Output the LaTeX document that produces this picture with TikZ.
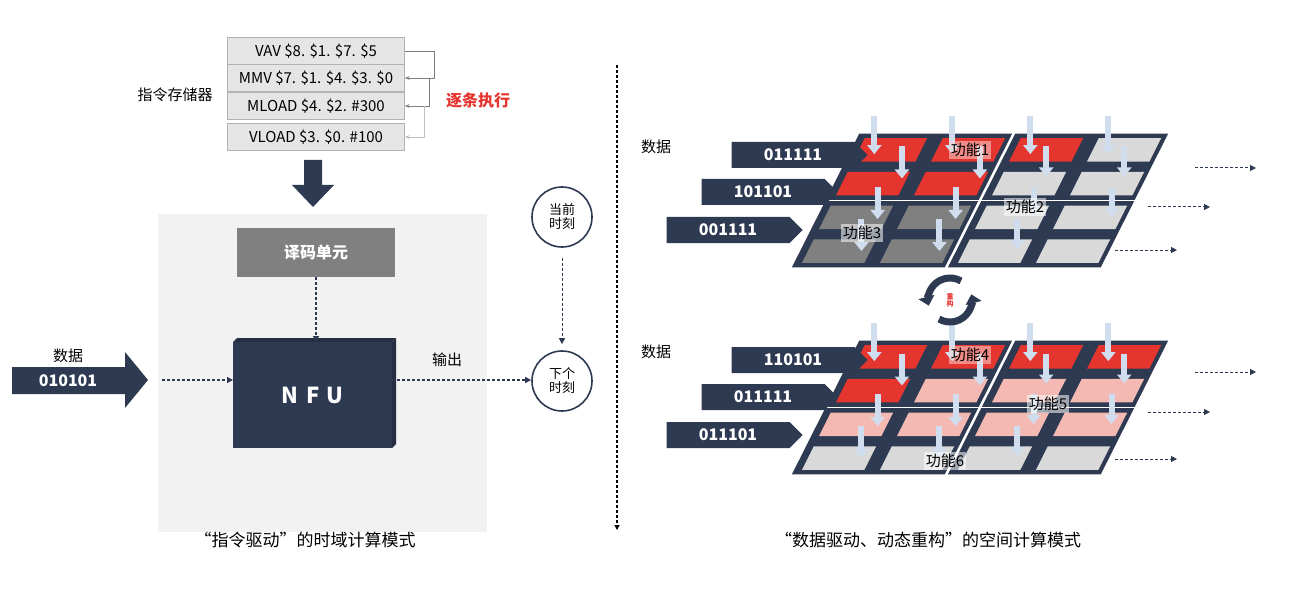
\documentclass[tikz,border=0pt]{standalone}
\usepackage{fontspec}
\setmainfont{Noto Sans CJK SC}
\usetikzlibrary{arrows.meta,shapes.symbols,calc}
\definecolor{navy}{HTML}{2E3A52}
\definecolor{redc}{HTML}{E5352F}
\definecolor{pinkc}{HTML}{F3B9B2}
\definecolor{lgray}{HTML}{D9D9D9}
\definecolor{dgray}{HTML}{808080}
\definecolor{pblue}{HTML}{D0DDEE}
\begin{document}
\begin{tikzpicture}[x=1pt,y=-1pt,
  instr/.style={draw=gray!60,fill=gray!20,minimum width=177pt,minimum height=27pt,font=\fontsize{15}{15}\selectfont,inner sep=0pt},
  lbl/.style={font=\fontsize{15}{15}\selectfont},
  dotarr/.style={navy,densely dashed,line width=1.3pt,-{Triangle[width=6pt,length=6pt]}},
  fb/.style={gray,line width=0.8pt,-{Stealth[length=5pt]}},
  sig/.style={signal,signal to=east,signal pointer angle=90,fill=navy,text=white,font=\bfseries\fontsize{16}{16}\selectfont,minimum height=26pt,minimum width=136pt,inner sep=0pt},
  tcirc/.style={circle,draw=navy,line width=1.6pt,minimum size=60pt,font=\fontsize{13}{14}\selectfont,align=center},
  func/.style={fill=white,fill opacity=0.55,text opacity=1,font=\fontsize{15}{15}\selectfont,inner sep=2pt},
  pa/.style={pblue,line width=6pt,-{Triangle[width=14pt,length=9pt]}}]
\useasboundingbox (0,0) rectangle (1290,596);
% ---------- left ----------
\node[instr] (i1) at (316,51) {VAV \$8. \$1. \$7. \$5};
\node[instr] (i2) at (316,78) {MMV \$7. \$1. \$4. \$3. \$0};
\node[instr] (i3) at (316,106) {MLOAD \$4. \$2. \#300};
\node[instr] (i4) at (316,137) {VLOAD \$3. \$0. \#100};
\draw[fb] (i1.east) -- ++(30,0) |- (i2.east);
\draw[fb] ($(i2.east)+(25,0)$) |- (i3.east);
\draw[fb,gray!50] ($(i3.east)+(20,0)$) |- (i4.east);
\node[lbl] (mem) at (175,95) {指令存储器};
\node[lbl,text=redc,font=\bfseries\fontsize{16}{16}\selectfont] (exec) at (478,100) {逐条执行};
\fill[navy] (304,160) rectangle (322,185) (292,185) -- (334,185) -- (313,207) -- cycle;
\node[fill=gray!10,minimum width=329pt,minimum height=317pt] (bg) at (322,373) {};
\node[fill=dgray,text=white,font=\bfseries\fontsize{16}{16}\selectfont,minimum width=158pt,minimum height=49pt] (dec) at (316,252) {译码单元};
\fill[navy!80!black] (233,342) -- (237,338) -- (396,338) -- (392,342) -- cycle;
\fill[navy!80!black] (392,342) -- (396,338) -- (396,444) -- (392,448) -- cycle;
\node[fill=navy,text=white,font=\bfseries\fontsize{22}{22}\selectfont,minimum width=159pt,minimum height=106pt,anchor=north west] (nfu) at (233,342) {N\,\,F\,\,U};
\draw[dotarr] (dec.south) -- (nfu.north -| dec.south);
\fill[navy] (12,367) rectangle (125,394) (125,352) -- (148,380) -- (125,408) -- cycle;
\node[text=white,font=\bfseries\fontsize{16}{16}\selectfont] (d0) at (68,381) {010101};
\node[lbl] (dl) at (68,356) {数据};
\coordinate (din) at (162,380);
\draw[dotarr] (din) -- (nfu.west |- din);
\node[tcirc] (c1) at (562,217) {当前\\时刻};
\node[tcirc] (c2) at (562,381) {下个\\时刻};
\draw[dotarr] (nfu.east |- din) -- (c2.west |- din);
\node[lbl] (out) at (447,360) {输出};
\draw[dotarr,line width=1pt] (c1.south) ++(0,10) -- ($(c2.north)+(0,-6)$);
\draw[black,densely dashed,line width=1.2pt,-{Triangle[width=5pt,length=5pt]}] (617,65) -- (617,530);
\node[lbl,font=\fontsize{17}{17}\selectfont] (cap1) at (305,540) {“指令驱动”的时域计算模式};
\node[lbl,font=\fontsize{17}{17}\selectfont] (cap2) at (928,540) {“数据驱动、动态重构”的空间计算模式};
% ---------- right grids ----------
\def\grid#1#2#3{%
 \begin{scope}[shift={(858pt,-#1pt)},x={(78pt,0pt)},y={(-17pt,-33.75pt)}]
  \foreach \bu in {0,2}{\foreach \bv in {0,2}{
   \fill[navy] (\bu+0.02,\bv+0.02) -- (\bu+1.98,\bv+0.02) -- (\bu+1.98,\bv+1.98) -- (\bu+0.02,\bv+1.98) -- cycle;}}
  \foreach \c [count=\k from 0] in {#2}{
   \pgfmathtruncatemacro\u{mod(\k,4)}\pgfmathtruncatemacro\v{div(\k,4)}
   \fill[\c] (\u+0.12,\v+0.15) -- (\u+0.92,\v+0.15) -- (\u+0.92,\v+0.85) -- (\u+0.12,\v+0.85) -- cycle;}
  \foreach \u/\v/\l in {#3}{\draw[pa] (\u,\v) -- ++(0pt,-\l pt);}
 \end{scope}}
\grid{133}{redc,redc,redc,lgray,redc,redc,lgray,lgray,dgray,dgray,lgray,lgray,dgray,dgray,lgray,lgray}{
  0.1/-0.5/38,1.1/-0.5/38,2.1/-0.5/38,3.1/-0.5/38,
  0.65/0.4/32,1.65/0.4/32,2.5/0.4/30,3.5/0.4/30,
  0.6/1.6/32,1.6/1.6/32,2.6/1.6/30,3.6/1.6/30,
  0.6/2.55/32,1.6/2.55/32,2.6/2.55/30}
\grid{340}{redc,redc,redc,redc,redc,pinkc,pinkc,pinkc,pinkc,pinkc,pinkc,pinkc,lgray,lgray,lgray,lgray}{
  0.1/-0.5/38,1.1/-0.5/38,2.1/-0.5/38,3.1/-0.5/38,
  0.65/0.4/32,1.65/0.4/32,2.5/0.4/30,3.5/0.4/30,
  0.6/1.6/32,1.6/1.6/32,2.6/1.6/30,3.6/1.6/30,
  0.6/2.55/32,1.6/2.55/32,2.6/2.55/30}
\node[func,fill=pinkc!60] (f1) at (970,150) {功能1};
\node[func] (f2) at (1025,207) {功能2};
\node[func] (f3) at (862,233) {功能3};
\node[func,fill=pinkc!60] (f4) at (970,355) {功能4};
\node[func] (f5) at (1048,404) {功能5};
\node[func] (f6) at (945,461) {功能6};
\node[lbl] (dr1) at (656,147) {数据};
\node[lbl] (dr2) at (656,352) {数据};
\node[sig] (s1) at (793,155) {011111};
\node[sig] (s2) at (763,192) {101101};
\node[sig] (s3) at (728,230) {001111};
\node[sig] (s4) at (793,360) {110101};
\node[sig] (s5) at (763,397) {011111};
\node[sig] (s6) at (728,435) {011101};
\foreach \y/\a/\b [count=\i] in {168/1195/1256,207/1148/1210,250/1115/1177,372/1195/1256,412/1148/1210,459/1115/1177}{
  \coordinate (o\i a) at (\a,\y); \coordinate (o\i b) at (\b,\y);
  \draw[dotarr,line width=1pt] (o\i a) -- (o\i b);}
% reconfig icon
\node[circle,minimum size=30pt,inner sep=0pt,text=redc,font=\bfseries\fontsize{7}{7}\selectfont,align=center] (rc) at (950,300) {重\\构};
\begin{scope}[shift={(950,300)},x=1pt,y=1pt]
 \draw[navy,line width=7pt,-{Triangle[width=16pt,length=9pt]}] (60:22) arc[start angle=60,end angle=195,radius=22];
 \draw[navy,line width=7pt,-{Triangle[width=16pt,length=9pt]}] (240:22) arc[start angle=240,end angle=375,radius=22];
\end{scope}
\end{tikzpicture}
\end{document}
